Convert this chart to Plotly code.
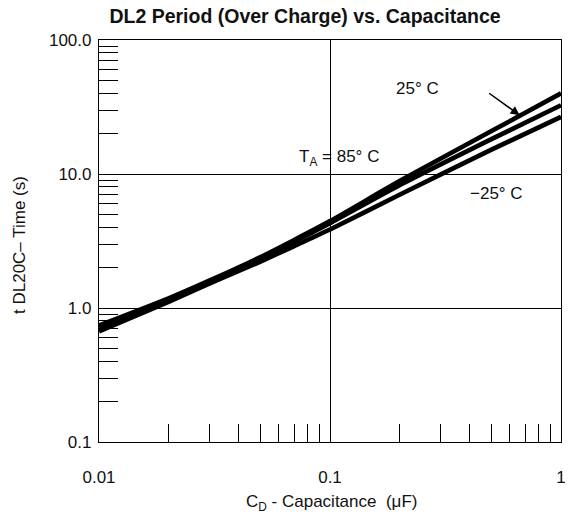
import plotly.graph_objects as go
import numpy as np

# Data
cap_uF = [0.01, 0.02, 0.03, 0.05, 0.07, 0.1, 0.2, 0.5, 1.0]
t_25C = [0.74, 1.18, 1.60, 2.40, 3.22, 4.45, 8.85, 20.9, 40.0]
t_85C = [0.72, 1.15, 1.57, 2.34, 3.12, 4.30, 8.25, 18.2, 32.6]
t_m25C = [0.67, 1.11, 1.52, 2.22, 2.90, 3.85, 7.0, 15.2, 26.7]

x_minor = [0.02, 0.03, 0.04, 0.05, 0.06, 0.07, 0.08, 0.09,
           0.2, 0.3, 0.4, 0.5, 0.6, 0.7, 0.8, 0.9]
y_minor = [0.2, 0.3, 0.4, 0.5, 0.6, 0.7, 0.8, 0.9,
           2, 3, 4, 5, 6, 7, 8, 9, 20, 30, 40, 50, 60, 70, 80, 90]
x_ticks = [0.01, 0.1, 1]
x_ticktext = ["0.01", "0.1", "1"]
y_ticks = [0.1, 1, 10, 100]
y_ticktext = ["0.1", "1.0", "10.0", "100.0"]

FONT = "Liberation Sans, Arial, Helvetica, sans-serif"
TXT = "#111111"

fig = go.Figure()
for name, ys in [("25°C", t_25C), ("85°C", t_85C), ("-25°C", t_m25C)]:
    fig.add_trace(go.Scatter(x=cap_uF, y=ys, mode="lines", name=name,
                             line=dict(color="black", width=4.6, shape="spline", smoothing=0.6),
                             showlegend=False, hoverinfo="skip"))

fig.update_layout(
    width=568, height=519,
    margin=dict(l=98.5, r=6.5, t=39.5, b=76.5, autoexpand=False),
    paper_bgcolor="white", plot_bgcolor="white",
    font=dict(family=FONT, size=17, color=TXT),
    title=dict(text="<b>DL2 Period (Over Charge) vs. Capacitance</b>",
               x=305 / 568, xref="container", xanchor="center",
               y=1 - 16 / 519, yref="container", yanchor="middle",
               font=dict(family=FONT, size=19.5, color=TXT)),
)

fig.update_xaxes(
    type="log", range=[-2, 0], automargin=False,
    tickmode="array", tickvals=x_ticks, ticktext=x_ticktext,
    ticks="", ticklen=0, ticklabelstandoff=19,
    showgrid=True, gridcolor="black", gridwidth=1,
    showline=True, mirror=True, linecolor="black", linewidth=1.2,
    zeroline=False,
    minor=dict(tickmode="array", tickvals=x_minor, ticks="inside",
               ticklen=18, tickwidth=1, tickcolor="black", showgrid=False),
)
fig.update_yaxes(
    type="log", range=[-1, 2], automargin=False,
    tickmode="array", tickvals=y_ticks, ticktext=y_ticktext,
    ticks="", ticklen=0, ticklabelstandoff=3,
    showgrid=True, gridcolor="black", gridwidth=1,
    showline=True, mirror=True, linecolor="black", linewidth=1.2,
    zeroline=False,
    minor=dict(tickmode="array", tickvals=y_minor, ticks="inside",
               ticklen=19, tickwidth=1, tickcolor="black", showgrid=False),
)

# Axis titles
fig.add_annotation(text="C<sub>D</sub> - Capacitance  (μF)", xref="paper", yref="paper",
                   x=(332 - 98.5) / 463, y=0, yshift=-61, xanchor="center", yanchor="middle",
                   showarrow=False, font=dict(size=17, color=TXT))
fig.add_annotation(text="t DL20C– Time (s)", xref="paper", yref="paper",
                   x=0, xshift=-79, y=(442.5 - 245) / 403, xanchor="center", yanchor="middle",
                   textangle=-90, showarrow=False, font=dict(size=17, color=TXT))

# Curve labels
fig.add_annotation(text="25° C", x=-0.622, y=1.637, xref="x", yref="y",
                   showarrow=False, font=dict(size=17, color=TXT))
fig.add_annotation(text="T<sub>A</sub> = 85° C", x=-0.961, y=1.12, xref="x", yref="y",
                   showarrow=False, font=dict(size=17, color=TXT))
fig.add_annotation(text="−25° C", x=-0.281, y=0.851, xref="x", yref="y",
                   showarrow=False, font=dict(size=17, color=TXT))
# Arrow pointing to 25°C curve
fig.add_annotation(text="", x=-0.179, y=1.439, xref="x", yref="y",
                   ax=-32, ay=-23, showarrow=True, arrowhead=2, arrowsize=1.2,
                   arrowwidth=1.5, arrowcolor="black")

fig.write_html("out.html", config={"displayModeBar": False},
               post_script="document.body.style.margin='0';document.body.style.overflow='hidden';")
